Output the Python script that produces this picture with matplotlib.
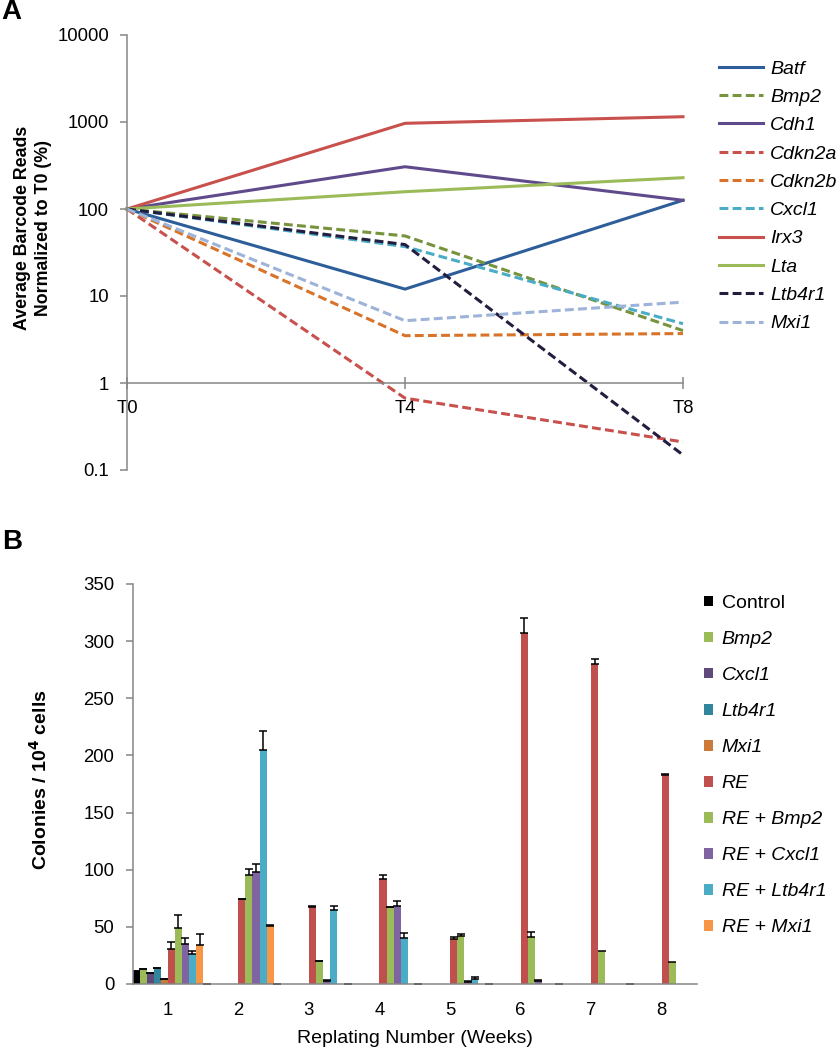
import numpy as np
import matplotlib.pyplot as plt

plt.rcParams['font.family'] = ['Liberation Sans', 'DejaVu Sans']
plt.rcParams['font.size'] = 14
plt.rcParams['xtick.labelsize'] = 13.3
plt.rcParams['ytick.labelsize'] = 13.3

W, H = 840, 1050
GRAY = '#868686'

# ---- panel A: barcode reads, % of T0 ----
timepoints = ['T0', 'T4', 'T8']
genes = ['Batf', 'Bmp2', 'Cdh1', 'Cdkn2a', 'Cdkn2b', 'Cxcl1', 'Irx3', 'Lta', 'Ltb4r1', 'Mxi1']
batf = [100, 12, 126]
bmp2 = [100, 49, 4.0]
cdh1 = [100, 306, 126]
cdkn2a = [100, 0.67, 0.21]
cdkn2b = [100, 3.5, 3.7]
cxcl1 = [100, 37, 4.8]
irx3 = [100, 966, 1150]
lta = [100, 158, 229]
ltb4r1 = [100, 39, 0.149]
mxi1 = [100, 5.2, 8.5]

# ---- panel B: colonies per 10^4 cells ----
weeks = ['1', '2', '3', '4', '5', '6', '7', '8']
nan = np.nan
groups = ['Control', 'Bmp2', 'Cxcl1', 'Ltb4r1', 'Mxi1',
          'RE', 'RE + Bmp2', 'RE + Cxcl1', 'RE + Ltb4r1', 'RE + Mxi1']
col_control = [11, 0, 0, 0, 0, 0, 0, 0]
col_bmp2 = [13, nan, nan, nan, nan, nan, nan, nan]
col_cxcl1 = [10, nan, nan, nan, nan, nan, nan, nan]
col_ltb4r1 = [14, nan, nan, nan, nan, nan, nan, nan]
col_mxi1 = [4, nan, nan, nan, nan, nan, nan, nan]
col_re = [31, 74, 67, 92, 39, 307, 280, 183]
col_re_bmp2 = [49, 95, 20, 67, 42, 41, 29, 19]
col_re_cxcl1 = [35, 98, 3, 68, 2, 3, nan, nan]
col_re_ltb4r1 = [26, 205, 65, 40, 4, nan, nan, nan]
col_re_mxi1 = [34, 51, nan, nan, nan, nan, nan, nan]
err_control = [0, 0, 0, 0, 0, 0, 0, 0]
err_bmp2 = [0, nan, nan, nan, nan, nan, nan, nan]
err_cxcl1 = [0, nan, nan, nan, nan, nan, nan, nan]
err_ltb4r1 = [0, nan, nan, nan, nan, nan, nan, nan]
err_mxi1 = [0, nan, nan, nan, nan, nan, nan, nan]
err_re = [6, 0.5, 1.5, 3, 2, 13, 4, 1]
err_re_bmp2 = [11, 6, 0.5, 0.5, 1.5, 4.5, nan, nan]
err_re_cxcl1 = [5, 7, 0.5, 4.5, 0.5, 0.5, nan, nan]
err_re_ltb4r1 = [3, 16, 3, 5, 2.5, nan, nan, nan]
err_re_mxi1 = [9.5, 0.5, nan, nan, nan, nan, nan, nan]

fig = plt.figure(figsize=(W / 100, H / 100), dpi=100)

# ================= A =================
line_data = [batf, bmp2, cdh1, cdkn2a, cdkn2b, cxcl1, irx3, lta, ltb4r1, mxi1]
line_colors = ['#2E5E9A', '#77933C', '#5F4A8C', '#C8504D', '#D8732A',
               '#4BACC6', '#C8504D', '#9BBB59', '#231E40', '#9DB3D9']
dashed = [False, True, False, True, True, True, False, False, True, True]

axA = fig.add_axes([127 / W, 1 - 470 / H, (683 - 127) / W, (470 - 35) / H])
x = np.arange(len(timepoints))
for name, vals, c, d in zip(genes, line_data, line_colors, dashed):
    ls = (0, (2.9, 1.4)) if d else '-'
    axA.plot(x, vals, color=c, lw=2.2, ls=ls, label=name, clip_on=False)

axA.set_yscale('log')
axA.set_ylim(0.1, 10000)
axA.set_xlim(0, 2)
axA.set_yticks([0.1, 1, 10, 100, 1000, 10000])
axA.set_yticklabels(['0.1', '1', '10', '100', '1000', '10000'])
axA.minorticks_off()
axA.set_xticks(x)
axA.set_xticklabels(timepoints)
for s in ['top', 'right']:
    axA.spines[s].set_visible(False)
axA.spines['bottom'].set_position(('data', 1))
for s in ['left', 'bottom']:
    axA.spines[s].set_color(GRAY)
    axA.spines[s].set_linewidth(1.1)
axA.tick_params(axis='y', direction='out', length=5, width=1.1, color=GRAY, pad=8)
axA.tick_params(axis='x', direction='inout', length=9, width=1.1, color=GRAY, pad=8)

fig.text(33 / W, 1 - 228 / H, 'Average Barcode Reads\nNormalized to T0 (%)',
         rotation=90, ha='center', va='center', fontweight='bold',
         fontsize=12.8, linespacing=1.35)

legA = fig.legend(*axA.get_legend_handles_labels(), loc='upper left',
                  bbox_to_anchor=(719 / W, 1 - 60 / H), frameon=False,
                  borderpad=0, borderaxespad=0, handlelength=2.27,
                  handletextpad=0.36, labelspacing=0.55, fontsize=14)
for t in legA.get_texts():
    t.set_style('italic')

fig.text(11 / W, 1 - 12 / H, 'A', fontsize=20, fontweight='bold',
         ha='center', va='center')

# ================= B =================
bar_data = [col_control, col_bmp2, col_cxcl1, col_ltb4r1, col_mxi1,
            col_re, col_re_bmp2, col_re_cxcl1, col_re_ltb4r1, col_re_mxi1]
bar_err = [err_control, err_bmp2, err_cxcl1, err_ltb4r1, err_mxi1,
           err_re, err_re_bmp2, err_re_cxcl1, err_re_ltb4r1, err_re_mxi1]
bar_colors = ['#000000', '#9BBB59', '#604A7B', '#31859C', '#CC7A3A',
              '#C0504D', '#9BBB59', '#8064A2', '#4BACC6', '#F79646']

axB = fig.add_axes([132.5 / W, 1 - 984 / H, (697 - 132.5) / W, 400 / H])
xb = np.arange(1, len(weeks) + 1)
w = 0.1
for i, (name, vals, err, c) in enumerate(zip(groups, bar_data, bar_err, bar_colors)):
    vals = np.array(vals, dtype=float)
    err = np.array(err, dtype=float)
    axB.bar(xb + (i - 4.5) * w, vals, width=w, color=c, label=name,
            yerr=[np.zeros_like(err), err],
            error_kw=dict(ecolor='black', elinewidth=1.1, capsize=2.6, capthick=1.1))

axB.set_xlim(0.5, 8.5)
axB.set_ylim(0, 350)
axB.set_yticks(np.arange(0, 351, 50))
axB.set_xticks(xb)
axB.set_xticklabels(weeks)
for s in ['top', 'right']:
    axB.spines[s].set_visible(False)
for s in ['left', 'bottom']:
    axB.spines[s].set_color(GRAY)
    axB.spines[s].set_linewidth(1.1)
axB.tick_params(axis='y', direction='out', length=5, width=1.1, color=GRAY, pad=8)
axB.tick_params(axis='x', length=0, pad=13)
axB.set_xlabel('Replating Number (Weeks)', fontsize=14, labelpad=8)

fig.text(40 / W, 1 - 780 / H, r'Colonies / 10$^\mathbf{4}$ cells',
         rotation=90, ha='center', va='center', fontweight='bold', fontsize=14)

legB = fig.legend(*axB.get_legend_handles_labels(), loc='upper left',
                  bbox_to_anchor=(704 / W, 1 - 595 / H), frameon=False,
                  borderpad=0, borderaxespad=0, handlelength=0.46,
                  handleheight=0.46, handletextpad=0.45, labelspacing=0.98,
                  fontsize=14)
for t in legB.get_texts():
    if t.get_text() != 'Control':
        t.set_style('italic')

fig.text(12 / W, 1 - 542 / H, 'B', fontsize=20, fontweight='bold',
         ha='center', va='center')

fig.savefig('out.png', dpi=100)
